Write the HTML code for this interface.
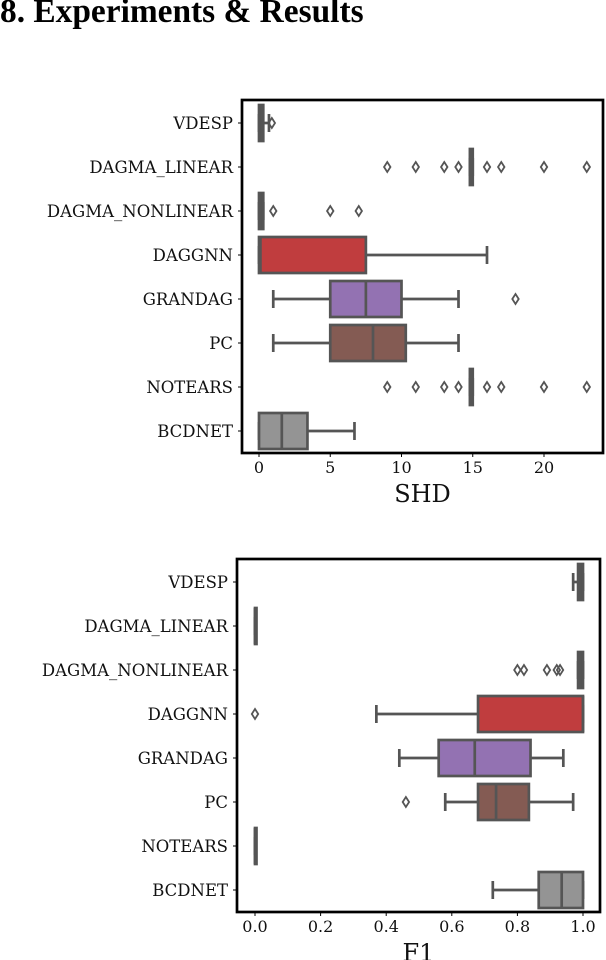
<!DOCTYPE html>
<html><head><meta charset="utf-8"><style>
body{margin:0;background:#fff;width:606px;height:960px;overflow:hidden}
h1{position:absolute;left:0;top:-7px;margin:0;font:bold 33.4px "Liberation Serif",serif;color:#000;white-space:nowrap}
svg{position:absolute;left:0;top:0}
text{font-family:"DejaVu Serif","Liberation Serif",serif;fill:#111}
</style></head><body>
<h1>8. Experiments &amp; Results</h1>
<svg id="svg" width="606" height="960"></svg>
<script>
const categories=["VDESP","DAGMA_LINEAR","DAGMA_NONLINEAR","DAGGNN","GRANDAG","PC","NOTEARS","BCDNET"];
const colors=["#555","#555","#555","#c03d3e","#9372b2","#845b53","#555","#949494"];
// [whiskerLo, q1, median, q3, whiskerHi]
const shdStats=[[0,0,0.2,0.3,0.7],[14.8,14.8,14.9,15,15],[0,0,0.1,0.3,0.3],[0,0,0.1,7.5,16],[1,5,7.5,10,14],[1,5,8,10.3,14],[14.8,14.8,14.9,15,15],[0,0,1.6,3.4,6.7]];
const shdOutliers=[[0.9],[9,11,13,14,16,17,20,23],[1,5,7],[],[18],[],[9,11,13,14,16,17,20,23],[]];
const shdTicks=[0,5,10,15,20];
const f1Stats=[[0.97,0.985,0.99,1,1],[0,0,0,0,0],[0.985,0.985,0.99,1,1],[0.37,0.68,1,1,1],[0.44,0.56,0.67,0.84,0.94],[0.58,0.68,0.735,0.835,0.97],[0,0,0,0,0],[0.725,0.865,0.935,1,1]];
const f1Outliers=[[],[],[0.8,0.82,0.89,0.92,0.93],[0],[],[0.46],[],[]];
const f1Ticks=[0,0.2,0.4,0.6,0.8,1.0];
const f1TickLabels=["0.0","0.2","0.4","0.6","0.8","1.0"];

const NS="http://www.w3.org/2000/svg";
const svg=document.getElementById('svg');
function mk(tag,attrs,parent){const e=document.createElementNS(NS,tag);for(const k in attrs)e.setAttribute(k,attrs[k]);(parent||svg).appendChild(e);return e;}

function chart(cfg){
  const g=mk('g',{});
  
  
  const xs=v=>cfg.x0+(v-cfg.v0)*(cfg.x1-cfg.x0)/(cfg.v1-cfg.v0);
  const ys=i=>cfg.yc0+i*cfg.step;
  const hh=18;
  categories.forEach((c,i)=>{
    const y=ys(i);
    const t=mk('text',{x:cfg.left-9,y:y+6,'text-anchor':'end','font-size':'16.5'},g);
    t.textContent=c;
    
    
    mk('line',{x1:cfg.left-4,x2:cfg.left,y1:y,y2:y,stroke:'#000','stroke-width':1},g);
    const s=cfg.stats[i];
    const bg=mk('g',{},g);
    
    
    const st={stroke:'#555','stroke-width':2.7};
    mk('line',Object.assign({x1:xs(s[0]),x2:xs(s[1]),y1:y,y2:y},st),bg);
    mk('line',Object.assign({x1:xs(s[3]),x2:xs(s[4]),y1:y,y2:y},st),bg);
    mk('line',Object.assign({x1:xs(s[0]),x2:xs(s[0]),y1:y-hh/2,y2:y+hh/2},st),bg);
    mk('line',Object.assign({x1:xs(s[4]),x2:xs(s[4]),y1:y-hh/2,y2:y+hh/2},st),bg);
    const w=Math.max(xs(s[3])-xs(s[1]),1.5);
    mk('rect',Object.assign({x:xs(s[1]),y:y-hh,width:w,height:2*hh,fill:colors[i]},st),bg);
    mk('line',Object.assign({x1:xs(s[2]),x2:xs(s[2]),y1:y-hh,y2:y+hh},st),bg);
    cfg.out[i].forEach(o=>{
      const d=mk('path',{d:`M${xs(o)} ${y-5}L${xs(o)+3.2} ${y}L${xs(o)} ${y+5}L${xs(o)-3.2} ${y}Z`,fill:'none',stroke:'#555','stroke-width':1.8},bg);
      
      
    });
  });
  cfg.ticks.forEach((v,k)=>{
    const x=xs(v);
    mk('line',{x1:x,x2:x,y1:cfg.bottom,y2:cfg.bottom+4,stroke:'#000','stroke-width':1},g);
    const t=mk('text',{x:x,y:cfg.bottom+20,'text-anchor':'middle','font-size':'16'},g);
    t.textContent=cfg.tickLabels?cfg.tickLabels[k]:String(v);
    
    
  });
  const fr=mk('rect',{x:cfg.left,y:cfg.top,width:cfg.right-cfg.left,height:cfg.bottom-cfg.top,fill:'none',stroke:'#000','stroke-width':2.7},g);
  
  
  const at=mk('text',{x:(cfg.left+cfg.right)/2,y:cfg.bottom+49,'text-anchor':'middle','font-size':'24'},g);
  at.textContent=cfg.title;
  
  
}
chart({name:'shd-boxplot',left:242,right:603,top:100,bottom:453,x0:259,x1:544,v0:0,v1:20,yc0:123,step:44,stats:shdStats,out:shdOutliers,ticks:shdTicks,title:'SHD'});
chart({name:'f1-boxplot',left:237,right:600,top:559,bottom:912,x0:255,x1:583,v0:0,v1:1,yc0:582,step:44,stats:f1Stats,out:f1Outliers,ticks:f1Ticks,tickLabels:f1TickLabels,title:'F1'});
</script>
</body></html>
